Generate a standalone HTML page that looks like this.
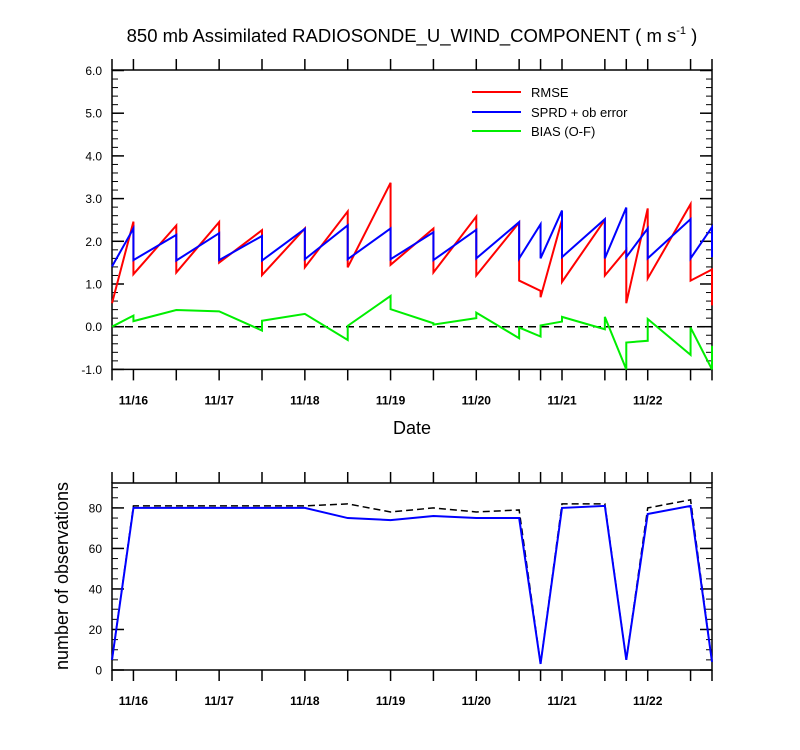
<!DOCTYPE html>
<html><head><meta charset="utf-8"><style>
body{margin:0;background:#fff;}
svg{display:block;font-family:"Liberation Sans",sans-serif;}
</style></head><body>
<svg id="c" width="800" height="750"></svg>
<script>
const times=[0,6,18,30,42,54,66,78,90,102,114,120,126,138,144,150,162,168];
const dayLabels=["11/16","11/17","11/18","11/19","11/20","11/21","11/22"];
const dayHours=[6,30,54,78,102,126,150];
const rmseIn=[null,2.46,2.37,2.45,2.26,2.3,2.7,3.37,2.3,2.58,2.44,0.84,2.5,2.5,1.8,2.77,2.87,1.34];
const rmseOut=[0.55,1.23,1.27,1.5,1.21,1.39,1.39,1.45,1.27,1.2,1.08,0.69,1.05,1.2,0.55,1.13,1.08,0.5];
const sprdIn=[null,2.3,2.15,2.19,2.125,2.29,2.375,2.3,2.21,2.27,2.45,2.4,2.72,2.52,2.79,2.3,2.52,2.33];
const sprdOut=[1.41,1.56,1.55,1.56,1.55,1.58,1.58,1.58,1.56,1.6,1.6,1.6,1.63,1.6,1.63,1.6,1.6,1.63];
const biasIn=[null,0.26,0.39,0.36,-0.09,0.3,-0.31,0.72,0.08,0.2,-0.27,-0.23,0.12,-0.06,-1.0,-0.33,-0.66,-1.0];
const biasOut=[0.0,0.13,0.39,0.36,0.14,0.3,0.02,0.41,0.05,0.33,-0.02,0.03,0.23,0.23,-0.37,0.18,-0.02,-0.45];
const obsUsed=[5,80,80,80,80,80,75,74,76,75,75,3,80,81,5,77,81,4];
const obsTotal=[5,81,81,81,81,81,82,78,80,78,79,3,82,82,5,80,84,4];
const topTicks=[-1,0,1,2,3,4,5,6];
const botTicks=[0,20,40,60,80];

const svg=document.getElementById('c');
const NS='http://www.w3.org/2000/svg';
function mk(tag,attrs,name,parent){const e=document.createElementNS(NS,tag);for(const k in attrs)e.setAttribute(k,attrs[k]);


(parent||svg).appendChild(e);return e;}
const X0=112,X1=712;
const xs=h=>X0+h*(X1-X0)/168;
const yT=v=>326.7-v*42.7;
const yB=v=>670-v*(670-483)/92.3;

const t=mk('text',{x:412,y:42,'text-anchor':'middle','font-size':18.5},'chart-title');
t.innerHTML='850 mb Assimilated RADIOSONDE_U_WIND_COMPONENT ( m s<tspan font-size="11" dy="-8">-1</tspan><tspan dy="8"> )</tspan>';

function frame(top,bot,yfun,ticks,minorStep,min,max,fmt,name){
  const g=mk('g',{},name);
  mk('rect',{x:X0,y:top,width:X1-X0,height:bot-top,fill:'none',stroke:'#000','stroke-width':1.5},name+'-frame',g);
  for(const h of times){
    mk('line',{x1:xs(h),x2:xs(h),y1:bot,y2:bot+11,stroke:'#000','stroke-width':1.5},'x-tick',g);
    mk('line',{x1:xs(h),x2:xs(h),y1:top,y2:top-11,stroke:'#000','stroke-width':1.5},'x-tick-top',g);
  }
  for(let v=min;v<=max+1e-6;v+=minorStep){
    const y=yfun(v);
    mk('line',{x1:X0,x2:X0+6,y1:y,y2:y,stroke:'#000','stroke-width':1},'y-minor-tick',g);
    mk('line',{x1:X1,x2:X1-6,y1:y,y2:y,stroke:'#000','stroke-width':1},'y-minor-tick',g);
  }
  for(const v of ticks){
    const y=yfun(v);
    mk('line',{x1:X0,x2:X0+12,y1:y,y2:y,stroke:'#000','stroke-width':1.5},'y-tick',g);
    mk('line',{x1:X1,x2:X1-12,y1:y,y2:y,stroke:'#000','stroke-width':1.5},'y-tick',g);
    const l=mk('text',{x:102,y:y+4.5,'text-anchor':'end','font-size':12},'y-tick-label',g);l.textContent=fmt(v);
  }
  dayHours.forEach((h,i)=>{const l=mk('text',{x:xs(h),y:bot+35,'text-anchor':'middle','font-size':12,'font-weight':'bold'},'x-tick-label',g);l.textContent=dayLabels[i];});
}
frame(70,369.4,yT,topTicks,0.2,-1,6,v=>v.toFixed(1),'top-panel');
frame(483,670,yB,botTicks,5,0,90,v=>String(v),'bottom-panel');

const dl=mk('text',{x:412,y:434,'text-anchor':'middle','font-size':18},'x-axis-title');dl.textContent='Date';
const yl=mk('text',{x:68,y:576,'text-anchor':'middle','font-size':18,transform:'rotate(-90 68 576)'},'y-axis-title');yl.textContent='number of observations';

mk('line',{x1:X0,x2:X1,y1:yT(0),y2:yT(0),stroke:'#000','stroke-width':1.5,'stroke-dasharray':'8,5'},'zero-line');

function saw(ins,outs,color,name){
  let pts=[];
  times.forEach((h,i)=>{const x=xs(h);if(ins[i]!==null)pts.push(x+','+yT(ins[i]));pts.push(x+','+yT(outs[i]));});
  mk('polyline',{points:pts.join(' '),fill:'none',stroke:color,'stroke-width':2},name);
}
saw(rmseIn,rmseOut,'#f00','rmse-line');
saw(sprdIn,sprdOut,'#00f','sprd-line');
saw(biasIn,biasOut,'#0e0','bias-line');

function line(vals,attrs,name){
  mk('polyline',Object.assign({points:times.map((h,i)=>xs(h)+','+yB(vals[i])).join(' '),fill:'none'},attrs),name);
}
line(obsTotal,{stroke:'#000','stroke-width':1.5,'stroke-dasharray':'7,4'},'obs-total-line');
line(obsUsed,{stroke:'#00f','stroke-width':2},'obs-used-line');

const leg=[['RMSE','#f00',92],['SPRD + ob error','#00f',112],['BIAS (O-F)','#0e0',131]];
leg.forEach(([txt,c,y])=>{const g=mk('g',{},'legend-entry');
  mk('line',{x1:472,x2:521,y1:y,y2:y,stroke:c,'stroke-width':2},'legend-swatch',g);
  const l=mk('text',{x:531,y:y+5,'font-size':13},'legend-label',g);l.textContent=txt;});
</script>
</body></html>
